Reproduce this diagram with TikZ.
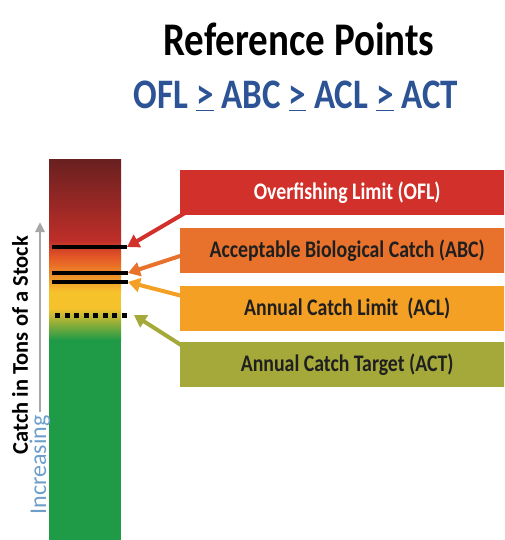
\documentclass[tikz,border=0pt]{standalone}
\usepackage{fontspec}
\setmainfont{Carlito}
\usetikzlibrary{calc,arrows.meta}
\definecolor{titleblue}{HTML}{2C5395}
\definecolor{incblue}{HTML}{6E9FCB}
\definecolor{oflred}{HTML}{D2302A}
\definecolor{abcorange}{HTML}{E8712C}
\definecolor{aclorange}{HTML}{F4A024}
\definecolor{actolive}{HTML}{A4A93A}
\definecolor{barbrown}{HTML}{6A2020}
\definecolor{barred}{HTML}{BE2E29}
\definecolor{barorange}{HTML}{E65A26}
\definecolor{baryellow}{HTML}{F6C22C}
\definecolor{bargreen}{HTML}{1F9A47}
\newcommand{\tallt}[1]{\scalebox{1}[1.2]{#1}}

\begin{document}
\begin{tikzpicture}[x=1pt,y=-1pt,
    refbox/.style={anchor=north west, minimum width=334pt, minimum height=45pt,
      inner sep=0pt, text=black!88, font=\bfseries\fontsize{19.8}{22}\selectfont},
    limitline/.style={line width=4pt},
    pointer/.style={line width=4pt, -{Triangle[length=12pt,width=14pt]}}]
	%%%%% START %%%%%
	\clip (0,0) rectangle (504,540);
	\fill[white] (0,0) rectangle (504,540);
	
	\node[font=\bfseries\fontsize{39}{44}\selectfont] (title) at (299,39) {\tallt{Reference Points}};
	\node[font=\bfseries\fontsize{35}{38}\selectfont, text=titleblue] (order) at (296,96)
		{\tallt{OFL \underline{>} ABC \underline{>} ACL \underline{>} ACT}};
	
	% the catch bar
	\shade[top color=barbrown, bottom color=barred] (49,160) rectangle (121,240);
	\shade[top color=barred, bottom color=barorange] (49,240) rectangle (121,258);
	\shade[top color=barorange, bottom color=baryellow] (49,258) rectangle (121,292);
	\fill[baryellow] (49,292) rectangle (121,308);
	\shade[top color=baryellow, bottom color=bargreen] (49,308) rectangle (121,340);
	\fill[bargreen] (49,340) rectangle (121,540);
	
	\draw[limitline] (52,247) -- (127,247) coordinate (oflmark);
	\draw[limitline] (52,273) -- (128,273) coordinate (abcmark);
	\draw[limitline] (52,282) -- (128,282) coordinate (aclmark);
	\draw[line width=5pt, dash pattern=on 5pt off 4.5pt] (55,315) -- (128,315);
	\coordinate (actmark) at (134,315);
	
	% side label
	\node[rotate=90, font=\bfseries\fontsize{22.5}{24}\selectfont] (catch) at (20,345) {Catch in Tons of a Stock};
	\node[rotate=90, font=\fontsize{24}{26}\selectfont, text=incblue, anchor=west] (incr) at (40,518) {Increasing};
	\coordinate (uptip) at (40,222);
	\draw[line width=2.5pt, black!35, -{Triangle[length=10pt,width=9pt]}] (incr.east) -- (uptip);
	
	% reference point boxes
	\node[refbox, fill=oflred, text=white] (ofl) at (180,170) {\tallt{Overfishing Limit (OFL)}};
	\node[refbox, fill=abcorange] (abc) at (180,228) {\tallt{Acceptable Biological Catch (ABC)}};
	\node[refbox, fill=aclorange] (acl) at (180,286) {\tallt{Annual Catch Limit~~(ACL)}};
	\node[refbox, fill=actolive] (act) at (180,342) {\tallt{Annual Catch Target (ACT)}};
	
	\draw[pointer, oflred] ($(ofl.south west)+(6,-3)$) -- (oflmark);
	\draw[pointer, abcorange] ($(abc.west)+(1,5)$) -- (abcmark);
	\draw[pointer, aclorange] ($(acl.west)+(1,-13)$) -- (aclmark);
	\draw[pointer, actolive] ($(act.north west)+(1,3)$) -- (actmark);
	%%%%% END %%%%%
\end{tikzpicture}
\end{document}
